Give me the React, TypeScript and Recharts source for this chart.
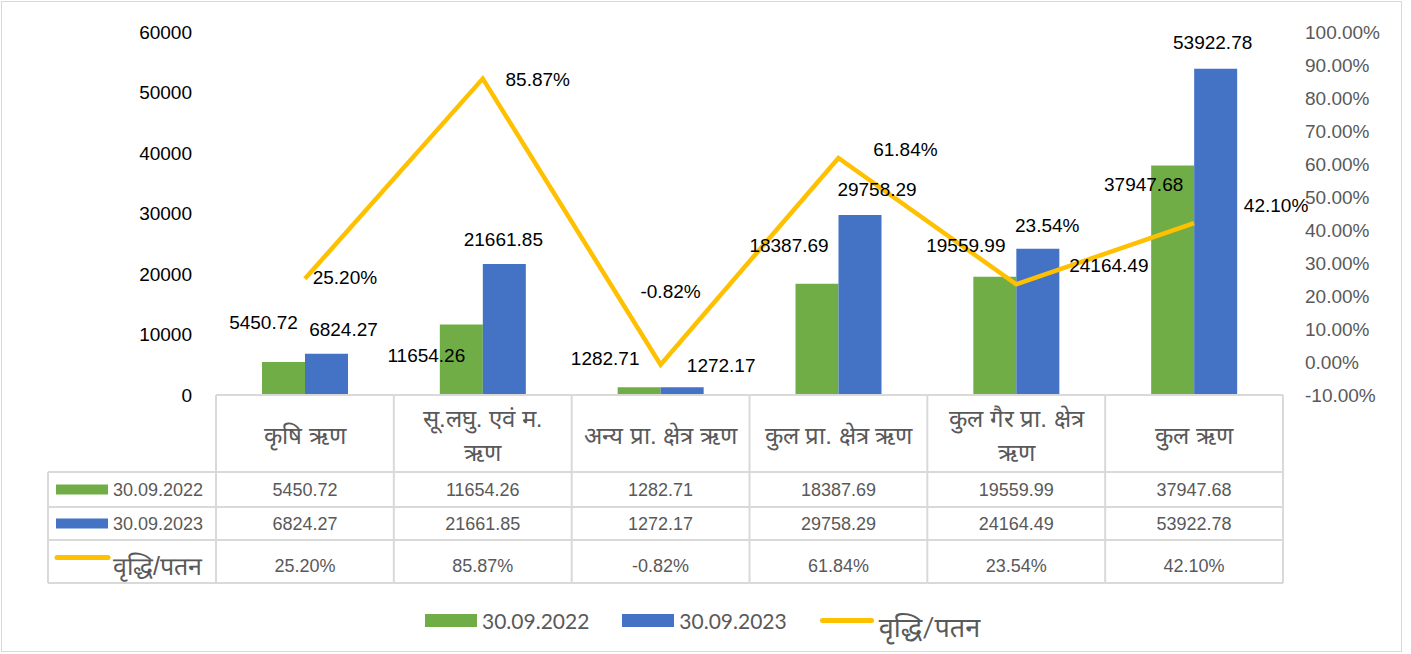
import React from "react";
import { ComposedChart, Bar, Line, XAxis, YAxis, LabelList } from "recharts";

// Loan figures per category.
const categories = [
  "कृषि ऋण",
  "सू.लघु. एवं म.\nऋण",
  "अन्य प्रा. क्षेत्र ऋण",
  "कुल प्रा. क्षेत्र ऋण",
  "कुल गैर प्रा. क्षेत्र\nऋण",
  "कुल ऋण",
];
const loans2022 = [5450.72, 11654.26, 1282.71, 18387.69, 19559.99, 37947.68];
const loans2023 = [6824.27, 21661.85, 1272.17, 29758.29, 24164.49, 53922.78];
const growthPct = [25.2, 85.87, -0.82, 61.84, 23.54, 42.1];
const seriesNames = ["30.09.2022", "30.09.2023", "वृद्धि/पतन"];
const leftTicks = [0, 10000, 20000, 30000, 40000, 50000, 60000];
const rightTicks = [-10, 0, 10, 20, 30, 40, 50, 60, 70, 80, 90, 100];

// Excel had its data labels dragged around by hand; these nudges copy that.
const labelNudge2022 = [[-20, -40], [-35, 31], [-34, -29], [-28, -38], [-29, -31], [-29, 19]];
const labelNudge2023 = [[17, -24], [-1, -24], [39, -22], [17, -25], [71, 17], [-3, -26]];
const labelNudgeGrowth = [[40, -1], [55, 1], [10, -73], [67, -8], [31, -59], [82, -18]];

const GREEN = "#70AD47";
const BLUE = "#4472C4";
const GOLD = "#FFC000";
const GRID = "#D9D9D9";
const TEXT = "#595959";
const FONT = "'Liberation Sans', Arial, sans-serif";

const W = 1411;
const H = 654;
const PLOT_L = 216;
const PLOT_R = 1283;
const PLOT_T = 32;
const PLOT_B = 395;
const X_AXIS_H = 190;
const COL_W = (PLOT_R - PLOT_L) / categories.length;
const ROWS = [395, 472, 507, 540, 583];
const TABLE_L = 48;

const data = categories.map((name, i) => ({
  name,
  y2022: loans2022[i],
  y2023: loans2023[i],
  growth: growthPct[i],
}));

const makeLabel = (nudges: number[][], fmt: (v: number) => string) => (props: any) => {
  const vb = props.viewBox ?? {};
  const x = vb.x ?? props.x;
  const y = vb.y ?? props.y;
  const w = vb.width ?? props.width ?? 0;
  const [dx, dy] = nudges[props.index] ?? [0, 0];
  return (
    <text
      x={x + w / 2 + dx}
      y={y + dy}
      textAnchor="middle"
      dominantBaseline="central"
      fontSize={19}
      fontFamily={FONT}
      fill="#000"
    >
      {fmt(Number(props.value))}
    </text>
  );
};

const fmtNum = (v: number) => v.toFixed(2);
const fmtPct = (v: number) => `${v.toFixed(2)}%`;

function RowKey({ row, y }: { row: number; y: number }) {
  const swatch =
    row === 2 ? (
      <line x1={57} x2={108} y1={y - 8} y2={y - 8} stroke={GOLD} strokeWidth={5} strokeLinecap="round" />
    ) : (
      <rect x={56} y={y - 5} width={52} height={10} fill={row === 0 ? GREEN : BLUE} />
    );
  return (
    <g>
      {swatch}
      <text
        x={113}
        y={y}
        dominantBaseline="central"
        fontSize={row === 2 ? 25 : 18}
        fontFamily={FONT}
        fill={TEXT}
      >
        {seriesNames[row]}
      </text>
    </g>
  );
}

// Each category tick draws its own column of the data table under the plot.
function TableTick(props: any) {
  const { x, index, payload } = props;
  const left = x - COL_W / 2;
  const right = x + COL_W / 2;
  const lines = String(payload.value).split("\n");
  const headMid = (ROWS[0] + ROWS[1]) / 2;
  const cells = [fmtNum(loans2022[index]), fmtNum(loans2023[index]), fmtPct(growthPct[index])];
  const border = { stroke: GRID, strokeWidth: 2 };
  return (
    <g>
      <line x1={left} x2={right} y1={ROWS[0]} y2={ROWS[0]} {...border} />
      <line x1={right} x2={right} y1={ROWS[0]} y2={ROWS[4]} {...border} />
      {ROWS.slice(1).map((ry) => (
        <line key={ry} x1={left} x2={right} y1={ry} y2={ry} {...border} />
      ))}
      {index === 0 && (
        <g>
          <line x1={left} x2={left} y1={ROWS[0]} y2={ROWS[4]} {...border} />
          <line x1={TABLE_L} x2={TABLE_L} y1={ROWS[1]} y2={ROWS[4]} {...border} />
          {ROWS.slice(1).map((ry) => (
            <line key={ry} x1={TABLE_L} x2={left} y1={ry} y2={ry} {...border} />
          ))}
          {[0, 1, 2].map((r) => (
            <RowKey key={r} row={r} y={(ROWS[r + 1] + ROWS[r + 2]) / 2 + (r === 2 ? 4 : 0)} />
          ))}
        </g>
      )}
      {lines.map((ln, k) => (
        <text
          key={k}
          x={x}
          y={headMid + 2 + (k - (lines.length - 1) / 2) * 34}
          textAnchor="middle"
          dominantBaseline="central"
          fontSize={24}
          fontFamily={FONT}
          fill={TEXT}
        >
          {ln}
        </text>
      ))}
      {cells.map((c, r) => (
        <text
          key={r}
          x={x}
          y={(ROWS[r + 1] + ROWS[r + 2]) / 2 + (r === 2 ? 4 : 0)}
          textAnchor="middle"
          dominantBaseline="central"
          fontSize={18}
          fontFamily={FONT}
          fill={TEXT}
        >
          {c}
        </text>
      ))}
    </g>
  );
}

function LegendRow() {
  const item = { display: "flex", alignItems: "center", gap: 5 } as const;
  const label = { fontFamily: "Lato, 'Noto Sans', sans-serif", fontSize: 21, color: TEXT };
  return (
    <div
      style={{
        position: "absolute",
        top: 606,
        left: 425,
        display: "flex",
        alignItems: "center",
        gap: 33,
        height: 28,
      }}
    >
      <div style={item}>
        <span style={{ width: 52, height: 13, background: GREEN, display: "inline-block" }} />
        <span style={label}>{seriesNames[0]}</span>
      </div>
      <div style={item}>
        <span style={{ width: 52, height: 13, background: BLUE, display: "inline-block" }} />
        <span style={label}>{seriesNames[1]}</span>
      </div>
      <div style={item}>
        <span style={{ width: 54, height: 5, borderRadius: 3, background: GOLD, display: "inline-block" }} />
        <span style={{ ...label, fontSize: 27, marginTop: 12 }}>{seriesNames[2]}</span>
      </div>
    </div>
  );
}

export default function App() {
  return (
    <div style={{ position: "absolute", left: 0, top: 0, width: W, height: H, background: "#fff" }}>
      <div
        style={{
          position: "absolute",
          left: 1,
          top: 1,
          width: W - 10,
          height: H - 3,
          border: `1px solid ${GRID}`,
          boxSizing: "border-box",
        }}
      />
      <ComposedChart
        width={W}
        height={H}
        data={data}
        margin={{ top: PLOT_T, right: 0, bottom: H - PLOT_B - X_AXIS_H, left: 0 }}
        barGap={0}
      >
        <XAxis
          dataKey="name"
          height={X_AXIS_H}
          interval={0}
          axisLine={false}
          tickLine={false}
          tickSize={0}
          tickMargin={0}
          tick={<TableTick />}
        />
        <YAxis
          yAxisId="amt"
          width={PLOT_L}
          domain={[0, 60000]}
          ticks={leftTicks}
          axisLine={false}
          tickLine={false}
          tickSize={0}
          tickMargin={24}
          tick={{ fontSize: 19, fontFamily: FONT, fill: "#000" }}
        />
        <YAxis
          yAxisId="pct"
          orientation="right"
          width={W - PLOT_R}
          domain={[-10, 100]}
          ticks={rightTicks}
          axisLine={false}
          tickLine={false}
          tickSize={0}
          tickMargin={22}
          tickFormatter={fmtPct}
          tick={{ fontSize: 19, fontFamily: FONT, fill: TEXT }}
        />
        <Bar yAxisId="amt" dataKey="y2022" name={seriesNames[0]} fill={GREEN} barSize={43} isAnimationActive={false}>
          <LabelList dataKey="y2022" content={makeLabel(labelNudge2022, fmtNum)} />
        </Bar>
        <Bar yAxisId="amt" dataKey="y2023" name={seriesNames[1]} fill={BLUE} barSize={43} isAnimationActive={false}>
          <LabelList dataKey="y2023" content={makeLabel(labelNudge2023, fmtNum)} />
        </Bar>
        <Line
          yAxisId="pct"
          dataKey="growth"
          name={seriesNames[2]}
          stroke={GOLD}
          strokeWidth={4.5}
          dot={false}
          type="linear"
          isAnimationActive={false}
        >
          <LabelList dataKey="growth" content={makeLabel(labelNudgeGrowth, fmtPct)} />
        </Line>
      </ComposedChart>
      <LegendRow />
    </div>
  );
}
